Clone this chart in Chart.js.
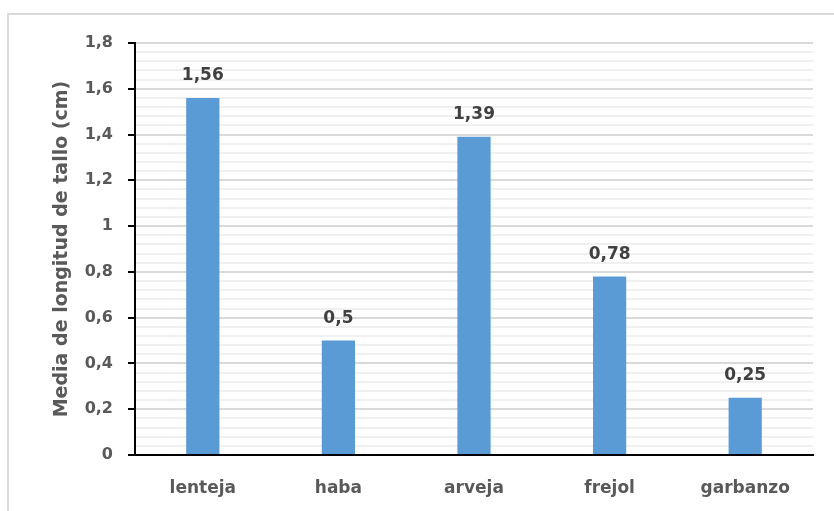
<!DOCTYPE html>
<html>
<head>
<meta charset="utf-8">
<script src="https://cdn.jsdelivr.net/npm/chart.js@4/dist/chart.umd.min.js"></script>
<style>
  html, body { margin: 0; padding: 0; background: #ffffff; }
  #wrap { position: relative; width: 834px; height: 511px; }
</style>
</head>
<body>
<div id="wrap"><canvas id="chart" width="834" height="511"></canvas></div>
<script>
// Mean stem length per legume
const categories = ['lenteja', 'haba', 'arveja', 'frejol', 'garbanzo'];
const meanLength = [1.56, 0.5, 1.39, 0.78, 0.25];
const yMin = 0;
const yMax = 1.8;
const majorStep = 0.2;
const minorStep = 0.04;
const yTitle = 'Media de longitud de tallo (cm)';

const FONT = '"DejaVu Sans", sans-serif';
const AXIS_TEXT = '#595959';
const LABEL_TEXT = '#404040';

const fmt = v => String(Math.round(v * 100) / 100).replace('.', ',');
const isMajor = v => Math.abs(v / majorStep - Math.round(v / majorStep)) < 1e-6;

// Thin frame around the chart object
const framePlugin = {
  id: 'frame',
  beforeDraw(chart) {
    const ctx = chart.ctx;
    ctx.save();
    ctx.fillStyle = '#ffffff';
    ctx.fillRect(0, 0, chart.width, chart.height);
    ctx.strokeStyle = '#d9d9d9';
    ctx.lineWidth = 2;
    ctx.beginPath();
    ctx.moveTo(8, chart.height);
    ctx.lineTo(8, 14);
    ctx.lineTo(chart.width, 14);
    ctx.stroke();
    ctx.restore();
  }
};

// Value labels above each bar
const valueLabels = {
  id: 'valueLabels',
  afterDatasetsDraw(chart) {
    const ctx = chart.ctx;
    ctx.save();
    ctx.font = 'bold 17px ' + FONT;
    ctx.fillStyle = LABEL_TEXT;
    ctx.textAlign = 'center';
    ctx.textBaseline = 'middle';
    chart.getDatasetMeta(0).data.forEach((bar, i) => {
      ctx.fillText(fmt(chart.data.datasets[0].data[i]), bar.x, bar.y - 22);
    });
    ctx.restore();
  }
};

new Chart(document.getElementById('chart'), {
  type: 'bar',
  data: {
    labels: categories,
    datasets: [{
      data: meanLength,
      backgroundColor: '#5b9bd5',
      borderWidth: 0,
      barPercentage: 1,
      categoryPercentage: 0.245
    }]
  },
  options: {
    responsive: false,
    animation: false,
    layout: { padding: { left: 0, top: 43, right: 21, bottom: 0 } },
    plugins: { legend: { display: false }, tooltip: { enabled: false } },
    scales: {
      x: {
        grid: { display: false, drawTicks: false },
        border: { color: '#000000', width: 2 },
        ticks: {
          color: AXIS_TEXT,
          font: { family: FONT, size: 17, weight: 'bold' },
          padding: 23,
          maxRotation: 0
        },
        afterFit(scale) { scale.height = 56; }
      },
      y: {
        min: yMin,
        max: yMax,
        border: { color: '#000000', width: 2 },
        grid: {
          color: ctx => isMajor(ctx.tick.value) ? '#d9d9d9' : '#f0f0f0',
          lineWidth: 2,
          tickLength: 7,
          tickWidth: 2,
          tickColor: ctx => isMajor(ctx.tick.value) ? '#000000' : 'rgba(0,0,0,0)'
        },
        ticks: {
          stepSize: minorStep,
          maxTicksLimit: 100,
          autoSkip: false,
          padding: 15,
          color: AXIS_TEXT,
          font: { family: FONT, size: 16, weight: 'bold' },
          callback: v => isMajor(v) ? fmt(v) : ''
        },
        title: {
          display: true,
          text: yTitle,
          color: AXIS_TEXT,
          font: { family: FONT, size: 19, weight: 'bold' },
          padding: { top: 51, bottom: 0 }
        },
        afterFit(scale) { scale.width = 135; }
      }
    }
  },
  plugins: [framePlugin, valueLabels]
});
</script>
</body>
</html>
